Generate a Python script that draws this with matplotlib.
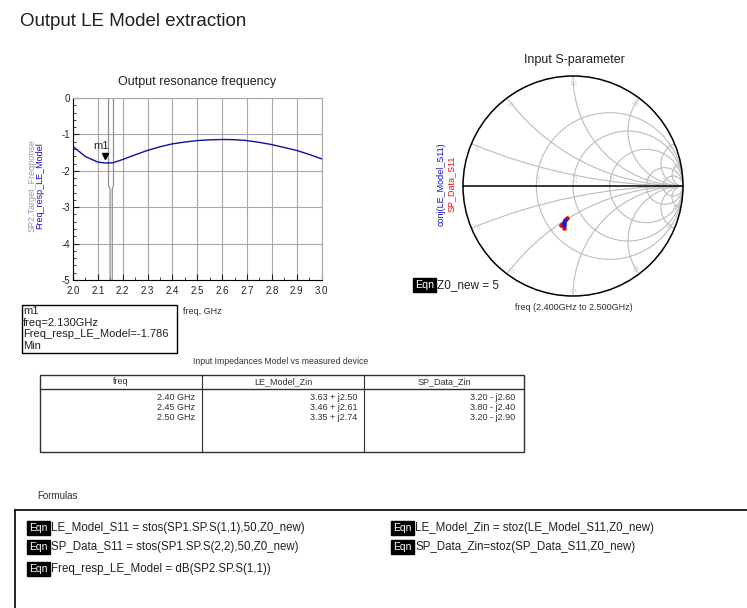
import numpy as np
import matplotlib
matplotlib.use("Agg")
import matplotlib.pyplot as plt
from matplotlib.patches import Circle, Rectangle
from matplotlib.lines import Line2D
from matplotlib.ticker import MultipleLocator
from matplotlib.transforms import ScaledTranslation

plt.rcParams['font.family'] = ['Liberation Sans', 'DejaVu Sans']
plt.rcParams['axes.unicode_minus'] = False

# --- data ---
sweep_freq_ghz = [2.0, 2.05, 2.1, 2.13, 2.16, 2.2, 2.25, 2.3, 2.35, 2.4, 2.45, 2.5,
                  2.55, 2.6, 2.65, 2.7, 2.75, 2.8, 2.85, 2.9, 2.95, 3.0]
freq_resp_le_model = [-1.33, -1.61, -1.76, -1.786, -1.78, -1.69, -1.56, -1.44, -1.34, -1.26,
                      -1.21, -1.17, -1.15, -1.14, -1.145, -1.17, -1.22, -1.28, -1.36, -1.44,
                      -1.55, -1.67]
target_freq_ghz = [2.149, 2.149, 2.143, 2.143, 2.163, 2.163, 2.158, 2.158]
target_resp_db = [-5.0, -2.5, -2.4, 0.0, 0.0, -2.4, -2.5, -5.0]
marker_freq = 2.13
marker_value = -1.786

freq_table = ["2.40 GHz", "2.45 GHz", "2.50 GHz"]
le_model_zin = [3.63 + 2.50j, 3.46 + 2.61j, 3.35 + 2.74j]
sp_data_zin = [3.20 - 2.60j, 3.80 - 2.40j, 3.20 - 2.90j]
z0_new = 5

smith_r = [0.5, 1.0, 2.0, 5.0, 10.0]
smith_x = [0.2, 0.5, 1.0, 2.0, 5.0, 10.0]

W, H = 747, 608
fig = plt.figure(figsize=(W / 100, H / 100), dpi=100)
fig.patch.set_facecolor('white')


def fx(x):
    return x / W


def fy(y):
    return 1 - y / H


def ptext(x, y, s, **kw):
    kw.setdefault('va', 'center')
    return fig.text(fx(x), fy(y), s, **kw)


def box_axes(l, t, r, b):
    return fig.add_axes([fx(l), fy(b), (r - l) / W, (b - t) / H])


def eqn(x, y, s, size=8.3, gap=24):
    ptext(x + 2, y, "Eqn", color='white', fontsize=size - 0.8,
          bbox=dict(facecolor='black', edgecolor='black', pad=1.6))
    ptext(x + gap, y, s, color='#202020', fontsize=size)


ptext(20, 22, "Output LE Model extraction", fontsize=13.5, color='#202020')

# --- frequency response plot ---
ax = box_axes(73, 98, 321.5, 280)
ax.plot(target_freq_ghz, target_resp_db, color='#909090', lw=0.9)
ax.plot(sweep_freq_ghz, freq_resp_le_model, color='#1010a0', lw=1.0)
ax.plot([marker_freq], [marker_value], marker='v', color='black', markersize=4.5,
        transform=ax.transData + ScaledTranslation(0, 5 / 72, fig.dpi_scale_trans))
ax.annotate("m1", xy=(marker_freq, marker_value), xytext=(-3, 12), textcoords='offset points',
            ha='center', va='center', fontsize=8, color='#202020')
ax.set_xlim(2.0, 3.0)
ax.set_ylim(-5, 0)
ax.xaxis.set_major_locator(MultipleLocator(0.1))
ax.xaxis.set_minor_locator(MultipleLocator(0.05))
ax.yaxis.set_major_locator(MultipleLocator(1))
ax.yaxis.set_minor_locator(MultipleLocator(0.2))
ax.set_xticklabels([f"{v:.1f}" for v in ax.get_xticks()])
ax.grid(True, which='major', color='#a8a8a8', lw=0.8)
ax.tick_params(which='both', direction='in', labelsize=7, colors='#202020', pad=2)
ax.tick_params(axis='x', which='major', pad=4.5)
ax.tick_params(which='major', length=4)
ax.tick_params(which='minor', length=2.5)
ax.tick_params(top=False, right=False, which='both')
for side in ('top', 'right'):
    ax.spines[side].set_color('#a8a8a8')
    ax.spines[side].set_linewidth(0.8)
for side in ('left', 'bottom'):
    ax.spines[side].set_color('black')
ax.set_title("Output resonance frequency", fontsize=9, color='#202020', pad=9)
ptext(32, 186, "SP2.Target_Freqponse", rotation=90, ha='center', fontsize=6.5, color='#9898b8')
ptext(40, 186, "Freq_resp_LE_Model", rotation=90, ha='center', fontsize=6.5, color='#1010c0')
ptext(183, 311, "freq, GHz", fontsize=6.5, color='#303030')

# marker readout
fig.add_artist(Rectangle((fx(22), fy(353)), 155 / W, 48 / H, transform=fig.transFigure,
                         fill=False, edgecolor='black', lw=1))
for i, line in enumerate(["m1", "freq=2.130GHz", f"Freq_resp_LE_Model={marker_value}", "Min"]):
    ptext(23, 311 + i * 11.5, line, fontsize=8, color='#202020')

# --- Smith chart ---
sx = box_axes(463, 76, 683, 296)
sx.set_xlim(-1, 1)
sx.set_ylim(-1, 1)
sx.axis('off')
unit = Circle((0, 0), 1, transform=sx.transData, fill=False, edgecolor='black', lw=1.1,
              clip_on=False)
grid_kw = dict(fill=False, edgecolor='#bcbcbc', lw=0.8)
for r in smith_r:
    c = Circle((r / (1 + r), 0), 1 / (1 + r), **grid_kw)
    sx.add_patch(c)
    c.set_clip_path(unit)
    sx.text((r - 1) / (r + 1) + 0.03, 0.04, f"{r:.1f}" if r < 10 else "10", fontsize=4,
            color='#c8c8c8', rotation=90, ha='center', va='bottom')
for xv in smith_x:
    for sgn in (1, -1):
        c = Circle((1, sgn / xv), 1 / xv, **grid_kw)
        sx.add_patch(c)
        c.set_clip_path(unit)
        g = (sgn * 1j * xv - 1) / (sgn * 1j * xv + 1)
        sx.text(g.real * 0.93, g.imag * 0.93, f"{xv:.1f}" if xv < 10 else "10", fontsize=4,
                color='#c8c8c8', ha='center', va='center',
                rotation=np.degrees(np.angle(g)) - 90)
sx.add_patch(unit)
sx.plot([-1, 1], [0, 0], color='black', lw=1.1, clip_on=False)

gam_model = [np.conj((z / z0_new - 1) / (z / z0_new + 1)) for z in le_model_zin]
gam_data = [(z / z0_new - 1) / (z / z0_new + 1) for z in sp_data_zin]
sx.plot([g.real for g in gam_data], [g.imag for g in gam_data], color='#e01010', lw=1.2,
        marker='o', markersize=2.3)
sx.plot([g.real for g in gam_model], [g.imag for g in gam_model], color='#2020d0', lw=1.2,
        marker='o', markersize=2.3)

ptext(574, 60, "Input S-parameter", ha='center', fontsize=9, color='#202020')
ptext(441, 184, "conj(LE_Model_S11)", rotation=90, ha='center', fontsize=6.5, color='#1010c0')
ptext(451, 184, "SP_Data_S11", rotation=90, ha='center', fontsize=6.5, color='#e01010')
ptext(574, 307, "freq (2.400GHz to 2.500GHz)", ha='center', fontsize=6.5, color='#303030')
eqn(413, 285, "Z0_new = 5", size=8.5, gap=24)

# --- impedance table ---
ptext(281, 362, "Input Impedances Model vs measured device", ha='center', fontsize=6.2,
      color='#303030')
fig.add_artist(Rectangle((fx(40), fy(452)), 484 / W, 77 / H, transform=fig.transFigure,
                         fill=False, edgecolor='#303030', lw=1))
fig.add_artist(Line2D([fx(40), fx(524)], [fy(389), fy(389)], transform=fig.transFigure,
                      color='#303030', lw=1))
for xc in (202, 364):
    fig.add_artist(Line2D([fx(xc), fx(xc)], [fy(375), fy(452)], transform=fig.transFigure,
                          color='#303030', lw=0.8))
for xc, head in ((121, "freq"), (283, "LE_Model_Zin"), (444, "SP_Data_Zin")):
    ptext(xc, 382, head, ha='center', fontsize=6.5, color='#303030')


def zfmt(z):
    sign = '+' if z.imag >= 0 else '-'
    return f"{z.real:.2f} {sign} j{abs(z.imag):.2f}"


for i in range(len(freq_table)):
    y = 398 + i * 10
    ptext(195, y, freq_table[i], ha='right', fontsize=6.5, color='#303030')
    ptext(357, y, zfmt(le_model_zin[i]), ha='right', fontsize=6.5, color='#303030')
    ptext(515, y, zfmt(sp_data_zin[i]), ha='right', fontsize=6.5, color='#303030')

# --- formulas ---
ptext(37, 496, "Formulas", fontsize=7, color='#303030')
fig.add_artist(Line2D([fx(15), fx(747)], [fy(510), fy(510)], transform=fig.transFigure,
                      color='black', lw=1.2))
fig.add_artist(Line2D([fx(15), fx(15)], [fy(510), fy(608)], transform=fig.transFigure,
                      color='black', lw=1.2))
eqn(27, 528, "LE_Model_S11 = stos(SP1.SP.S(1,1),50,Z0_new)")
eqn(27, 547, "SP_Data_S11 = stos(SP1.SP.S(2,2),50,Z0_new)")
eqn(27, 569, "Freq_resp_LE_Model = dB(SP2.SP.S(1,1))")
eqn(391, 528, "LE_Model_Zin = stoz(LE_Model_S11,Z0_new)")
eqn(391, 547, "SP_Data_Zin=stoz(SP_Data_S11,Z0_new)")

fig.savefig("out.png", dpi=100, facecolor='white')
